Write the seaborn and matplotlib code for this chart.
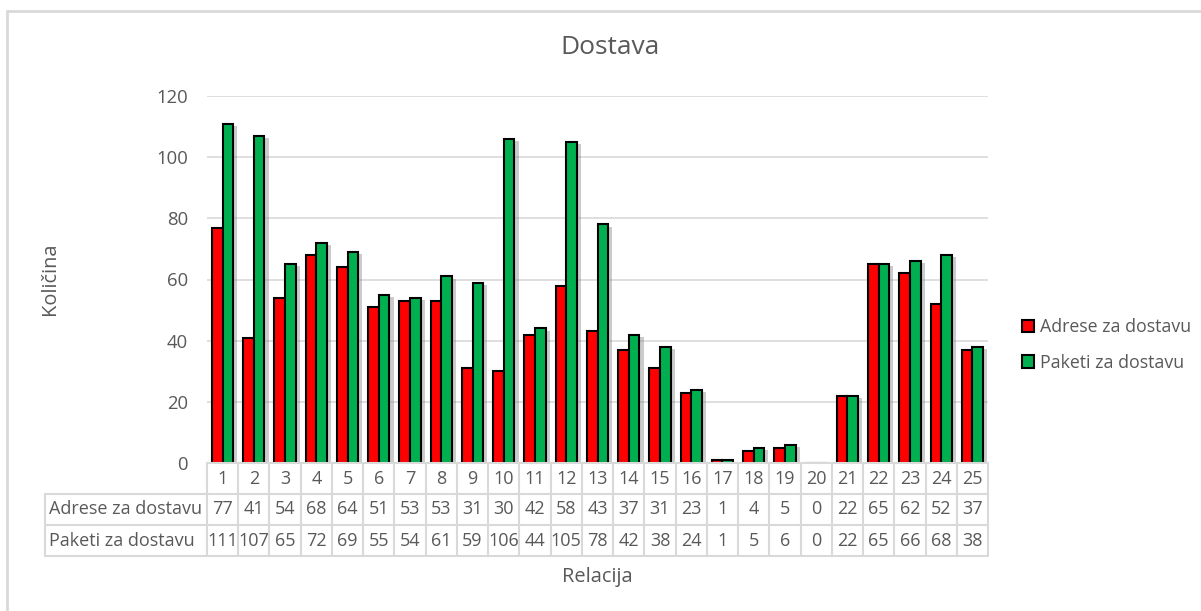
import matplotlib
matplotlib.use("Agg")
import matplotlib.pyplot as plt
import matplotlib.patheffects as pe
from matplotlib.lines import Line2D
from matplotlib.patches import Patch
from matplotlib.transforms import blended_transform_factory
import seaborn as sns
import pandas as pd

categories = [str(i) for i in range(1, 26)]
adrese = [77, 41, 54, 68, 64, 51, 53, 53, 31, 30, 42, 58, 43, 37, 31, 23, 1, 4, 5, 0, 22, 65, 62, 52, 37]
paketi = [111, 107, 65, 72, 69, 55, 54, 61, 59, 106, 44, 105, 78, 42, 38, 24, 1, 5, 6, 0, 22, 65, 66, 68, 38]
series_names = ["Adrese za dostavu", "Paketi za dostavu"]
colors = ["#FF0000", "#00B050"]
y_ticks = [0, 20, 40, 60, 80, 100, 120]

sns.set_theme(style="white")
plt.rcParams["font.family"] = ["Open Sans", "DejaVu Sans"]
TXT = "#595959"
GRID = "#D9D9D9"

W, H = 1201, 611
fig = plt.figure(figsize=(W / 100, H / 100), dpi=100)
fig.patch.set_facecolor("white")

def fx(px):
    return px / W

def fy(py):
    return 1 - py / H

ax = fig.add_axes([fx(207), fy(463), fx(988) - fx(207), fy(96) - fy(463)])

df = pd.DataFrame({
    "Relacija": categories * 2,
    "value": adrese + paketi,
    "series": [series_names[0]] * len(categories) + [series_names[1]] * len(categories),
})

sns.barplot(data=df, x="Relacija", y="value", hue="series", palette=colors, saturation=1,
            edgecolor="black", linewidth=1.5, width=0.68, ax=ax, legend=False,
            err_kws={"linewidth": 0})

for p in ax.patches:
    p.set_path_effects([pe.SimplePatchShadow(offset=(3, -1.5), shadow_rgbFace="#7f7f7f", alpha=0.4),
                        pe.Normal()])

ax.set_ylim(0, 120)
ax.set_xlim(-0.5, len(categories) - 0.5)
ax.set_yticks(y_ticks)
ax.set_yticklabels([str(t) for t in y_ticks], color=TXT, fontsize=13.3)
ax.tick_params(axis="y", length=0, pad=13.5)
ax.set_xticks([])
ax.set_xlabel("")
ax.set_ylabel("")
for s in ax.spines.values():
    s.set_visible(False)
ax.yaxis.grid(True, color=GRID, linewidth=1.2)
ax.set_axisbelow(True)

# Data table
tr = blended_transform_factory(ax.transData, fig.transFigure)
n = len(categories)
y_top, y_r1, y_r2, y_bot = 463, 494, 525, 556
fig.add_artist(Line2D([-0.5, n - 0.5], [fy(y_top)] * 2, transform=tr, color=GRID, lw=1.5))
for yy in (y_r1, y_r2, y_bot):
    fig.add_artist(Line2D([fx(45), fx(988)], [fy(yy)] * 2, transform=fig.transFigure, color=GRID, lw=1.5))
for i in range(n + 1):
    fig.add_artist(Line2D([i - 0.5, i - 0.5], [fy(y_top), fy(y_bot)], transform=tr, color=GRID, lw=1.5))
fig.add_artist(Line2D([fx(45), fx(45)], [fy(y_r1), fy(y_bot)], transform=fig.transFigure, color=GRID, lw=1.5))

FS = 13
rows = [adrese, paketi]
for i, c in enumerate(categories):
    fig.text(i, fy((y_top + y_r1) / 2), c, transform=tr, ha="center", va="center", fontsize=FS, color=TXT)
    for r, vals in enumerate(rows):
        yc = fy([(y_r1 + y_r2) / 2, (y_r2 + y_bot) / 2][r])
        fig.text(i, yc, str(vals[i]), transform=tr, ha="center", va="center", fontsize=FS, color=TXT)
for r, name in enumerate(series_names):
    yc = fy([(y_r1 + y_r2) / 2, (y_r2 + y_bot) / 2][r])
    fig.text(fx(49), yc, name, ha="left", va="center", fontsize=FS, color=TXT)

# Titles
fig.text(fx(610), fy(48), "Dostava", ha="center", va="center", fontsize=19, color=TXT)
fig.text(fx(50), fy(279), "Količina", ha="center", va="center", rotation=90, fontsize=14.4, color=TXT)
fig.text(fx(597), fy(577), "Relacija", ha="center", va="center", fontsize=14.4, color=TXT)

# Legend
handles = [Patch(facecolor=c, edgecolor="black", linewidth=1.5, label=nm) for c, nm in zip(colors, series_names)]
leg = fig.legend(handles=handles, loc="center left", bbox_to_anchor=(fx(1006), fy(345)),
                 frameon=False, fontsize=12.8, handlelength=0.7, handleheight=0.7,
                 handletextpad=0.3, labelspacing=1.0)
for t in leg.get_texts():
    t.set_color(TXT)

# Chart border
fig.add_artist(Line2D([fx(7), 1], [fy(11), fy(11)], transform=fig.transFigure, color=GRID, lw=2))
fig.add_artist(Line2D([fx(7), fx(7)], [fy(11), 0], transform=fig.transFigure, color=GRID, lw=2))

fig.savefig("out.png", dpi=100, facecolor="white")
